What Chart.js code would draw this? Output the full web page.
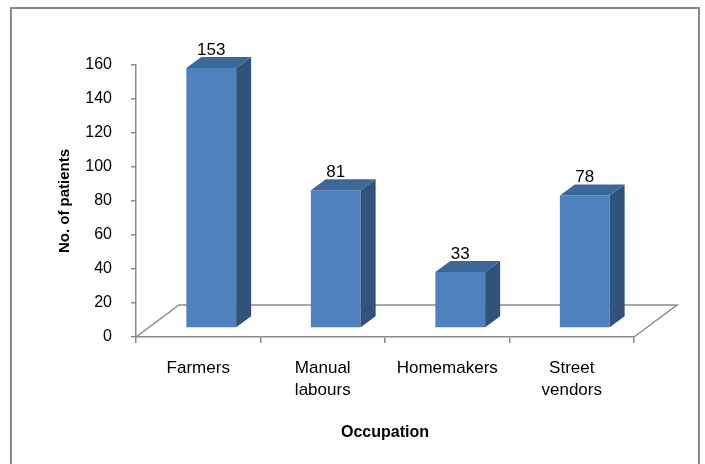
<!DOCTYPE html>
<html><head><meta charset="utf-8">
<script src="https://cdn.jsdelivr.net/npm/chart.js@4.4.1/dist/chart.umd.min.js"></script>
<style>html,body{margin:0;padding:0;background:#fff}#wrap{width:705px;height:464px;position:relative}</style>
</head><body><div id="wrap"><canvas id="c"></canvas></div>
<script>
const categories = ['Farmers', ['Manual', 'labours'], 'Homemakers', ['Street', 'vendors']];
const patients = [153, 81, 33, 78];
const yTickValues = [0, 20, 40, 60, 80, 100, 120, 140, 160];
const xTitle = 'Occupation';
const yTitle = 'No. of patients';

const FONT = "'Liberation Sans', Arial, sans-serif";
const GRAY = '#8a8a8a';
const SHIFT = {x: 13, y: -9};
const DEPTH = {x: 15, y: -11};
const FLOOR = {x: 43, y: -32};
const FRONT = '#4F81BD', SIDE = '#31527C', TOP = '#3C6799';

const frame = {
  id: 'frame',
  beforeDraw(chart) {
    const c = chart.ctx;
    c.save();
    c.fillStyle = '#fff';
    c.fillRect(0, 0, chart.width, chart.height);
    c.strokeStyle = GRAY; c.lineWidth = 2;
    c.beginPath();
    c.moveTo(11, chart.height); c.lineTo(11, 8); c.lineTo(699, 8); c.lineTo(699, chart.height);
    c.stroke();
    c.restore();
  }
};

const floor = {
  id: 'floor',
  beforeDatasetsDraw(chart) {
    const {left, right, bottom} = chart.chartArea;
    const c = chart.ctx;
    c.save();
    c.strokeStyle = GRAY; c.lineWidth = 1.5;
    c.beginPath();
    c.moveTo(left, bottom);
    c.lineTo(left + FLOOR.x, bottom + FLOOR.y);
    c.lineTo(right + FLOOR.x, bottom + FLOOR.y);
    c.lineTo(right, bottom);
    c.stroke();
    c.restore();
  }
};

const bars3d = {
  id: 'bars3d',
  beforeDatasetDraw(chart) {
    chart.ctx.save();
    chart.ctx.translate(SHIFT.x, SHIFT.y);
  },
  afterDatasetDraw(chart, args) {
    const c = chart.ctx;
    const ds = chart.data.datasets[args.index];
    args.meta.data.forEach((el, i) => {
      const p = el.getProps(['x', 'y', 'base', 'width'], true);
      const l = p.x - p.width / 2, r = p.x + p.width / 2, t = p.y, b = p.base;
      c.fillStyle = SIDE;
      c.beginPath();
      c.moveTo(r, t); c.lineTo(r + DEPTH.x, t + DEPTH.y); c.lineTo(r + DEPTH.x, b + DEPTH.y); c.lineTo(r, b);
      c.closePath(); c.fill();
      c.fillStyle = TOP;
      c.beginPath();
      c.moveTo(l, t); c.lineTo(l + DEPTH.x, t + DEPTH.y); c.lineTo(r + DEPTH.x, t + DEPTH.y); c.lineTo(r, t);
      c.closePath(); c.fill();
      c.fillStyle = '#000';
      c.font = '17px ' + FONT;
      c.textAlign = 'center';
      c.textBaseline = 'alphabetic';
      c.fillText(String(ds.data[i]), p.x, t + DEPTH.y - 2);
    });
    c.restore();
  }
};

new Chart(document.getElementById('c'), {
  type: 'bar',
  data: {
    labels: categories,
    datasets: [{
      data: patients,
      backgroundColor: FRONT,
      borderWidth: 0,
      categoryPercentage: 1,
      barPercentage: 0.4,
      clip: false
    }]
  },
  options: {
    responsive: true,
    maintainAspectRatio: false,
    animation: false,
    layout: {padding: {left: 0, top: 65, right: 71, bottom: 0}},
    plugins: {legend: {display: false}, tooltip: {enabled: false}},
    scales: {
      x: {
        grid: {drawOnChartArea: false, tickLength: 6, color: GRAY, lineWidth: 1.5, offset: true},
        border: {color: GRAY, width: 1.5},
        ticks: {color: '#000', font: {family: FONT, size: 17, lineHeight: 1.3}, padding: 14, maxRotation: 0, autoSkip: false},
        title: {display: true, text: xTitle, color: '#000', font: {family: FONT, size: 16, weight: 'bold', lineHeight: 1.2}, padding: {top: 0, bottom: 22}},
        afterFit(s) { s.height = 127; }
      },
      y: {
        min: 0, max: 160,
        afterBuildTicks(s) { s.ticks = yTickValues.map(v => ({value: v})); },
        grid: {drawOnChartArea: false, tickLength: 5, color: GRAY, lineWidth: 1.5},
        border: {color: GRAY, width: 1.5},
        ticks: {color: '#000', font: {family: FONT, size: 16}, padding: 19},
        title: {display: true, text: yTitle, color: '#000', font: {family: FONT, size: 15, weight: 'bold', lineHeight: 1.2}, padding: {top: 56, bottom: 0}},
        afterFit(s) { s.width = 136; }
      }
    }
  },
  plugins: [frame, floor, bars3d]
});
</script>
</body></html>
